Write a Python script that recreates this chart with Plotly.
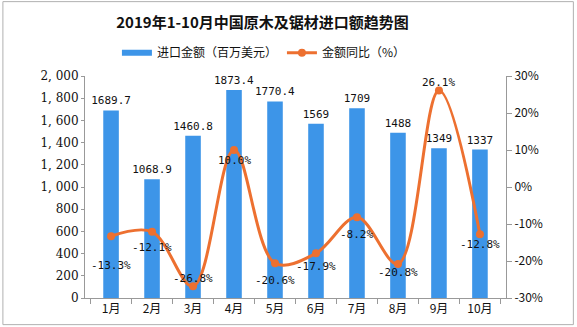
import plotly.graph_objects as go

months = ["1月", "2月", "3月", "4月", "5月", "6月", "7月", "8月", "9月", "10月"]
import_value = [1689.7, 1068.9, 1460.8, 1873.4, 1770.4, 1569, 1709, 1488, 1349, 1337]
yoy_pct = [-13.3, -12.1, -26.8, 10.0, -20.6, -17.9, -8.2, -20.8, 26.1, -12.8]
left_ticks = [0, 200, 400, 600, 800, 1000, 1200, 1400, 1600, 1800, 2000]
left_ticktext = ["0", "200", "400", "600", "800", "1, 000", "1, 200", "1, 400", "1, 600", "1, 800", "2, 000"]
right_ticks = [-30, -20, -10, 0, 10, 20, 30]
right_ticktext = ["-30%", "-20%", "-10%", "0%", "10%", "20%", "30%"]

# label offsets (pixels below the point) — styling only
label_down = [29, 16, -8, 10, 17, 13, 17, 9, -8, 10]

BLUE = "#3d95e8"
ORANGE = "#ed7030"
FONT = "Noto Sans CJK SC"

fig = go.Figure()
fig.add_trace(go.Bar(
    x=months, y=import_value, name="进口金额（百万美元）",
    marker=dict(color=BLUE, line=dict(width=0)), width=0.38,
    text=[f"{v:g}" for v in import_value], texttemplate="%{text}",
    textposition="outside", constraintext="none",
    textfont=dict(size=11, color="#111", family="DejaVu Sans Mono"),
    cliponaxis=False, showlegend=False,
))
fig.add_trace(go.Scatter(
    x=[None], y=[None], mode="lines", name="进口金额（百万美元）",
    line=dict(color=BLUE, width=6), showlegend=True,
))
fig.add_trace(go.Scatter(
    x=months, y=yoy_pct, yaxis="y2", mode="lines+markers", name="金额同比（%）",
    line=dict(color=ORANGE, width=3, shape="spline", smoothing=1),
    marker=dict(color=ORANGE, size=8), cliponaxis=False,
))

for m, v, d in zip(months, yoy_pct, label_down):
    fig.add_annotation(
        x=m, y=v, yref="y2", text=f"{v:.1f}%", showarrow=False,
        yshift=-d, yanchor="middle", xanchor="center",
        font=dict(size=11, color="#111", family="DejaVu Sans Mono"),
    )

# outer border
fig.add_shape(type="rect", xref="paper", yref="paper",
              x0=-0.195, x1=1.16, y0=-0.12, y1=1.335,
              line=dict(color="#b0b0b0", width=1), fillcolor="rgba(0,0,0,0)", layer="below")

fig.update_layout(
    width=577, height=327,
    margin=dict(l=85, r=71, t=76, b=29),
    paper_bgcolor="white", plot_bgcolor="white",
    font=dict(family=FONT, size=12, color="#111"),
    title=dict(text="<b>2019年1-10月中国原木及锯材进口额趋势图</b>",
               x=0.455, xanchor="center", y=0.93, yanchor="middle",
               font=dict(size=15, family=FONT, color="#111")),
    legend=dict(orientation="h", x=0.425, xanchor="center", y=1.105, yanchor="middle",
                font=dict(size=12, family=FONT), itemwidth=30, traceorder="normal",
                bgcolor="rgba(0,0,0,0)"),
    bargap=0.6,
    xaxis=dict(showline=True, linecolor="#999", linewidth=1, ticks="outside",
               tickson="boundaries", ticklen=5, tickcolor="#999",
               tickfont=dict(size=12), showgrid=False),
    yaxis=dict(range=[0, 2000], tickvals=left_ticks, ticktext=left_ticktext,
               showline=True, linecolor="#999", linewidth=1, ticks="outside",
               ticklen=3, tickcolor="#999", showgrid=False, zeroline=False,
               tickfont=dict(size=12, family="DejaVu Serif")),
    yaxis2=dict(range=[-30, 30], tickvals=right_ticks, ticktext=right_ticktext,
                overlaying="y", side="right", showline=True, linecolor="#999",
                linewidth=1, ticks="outside", ticklen=5, tickcolor="#999",
                showgrid=False, zeroline=False, tickfont=dict(size=12)),
)

fig.write_html("out.html")
